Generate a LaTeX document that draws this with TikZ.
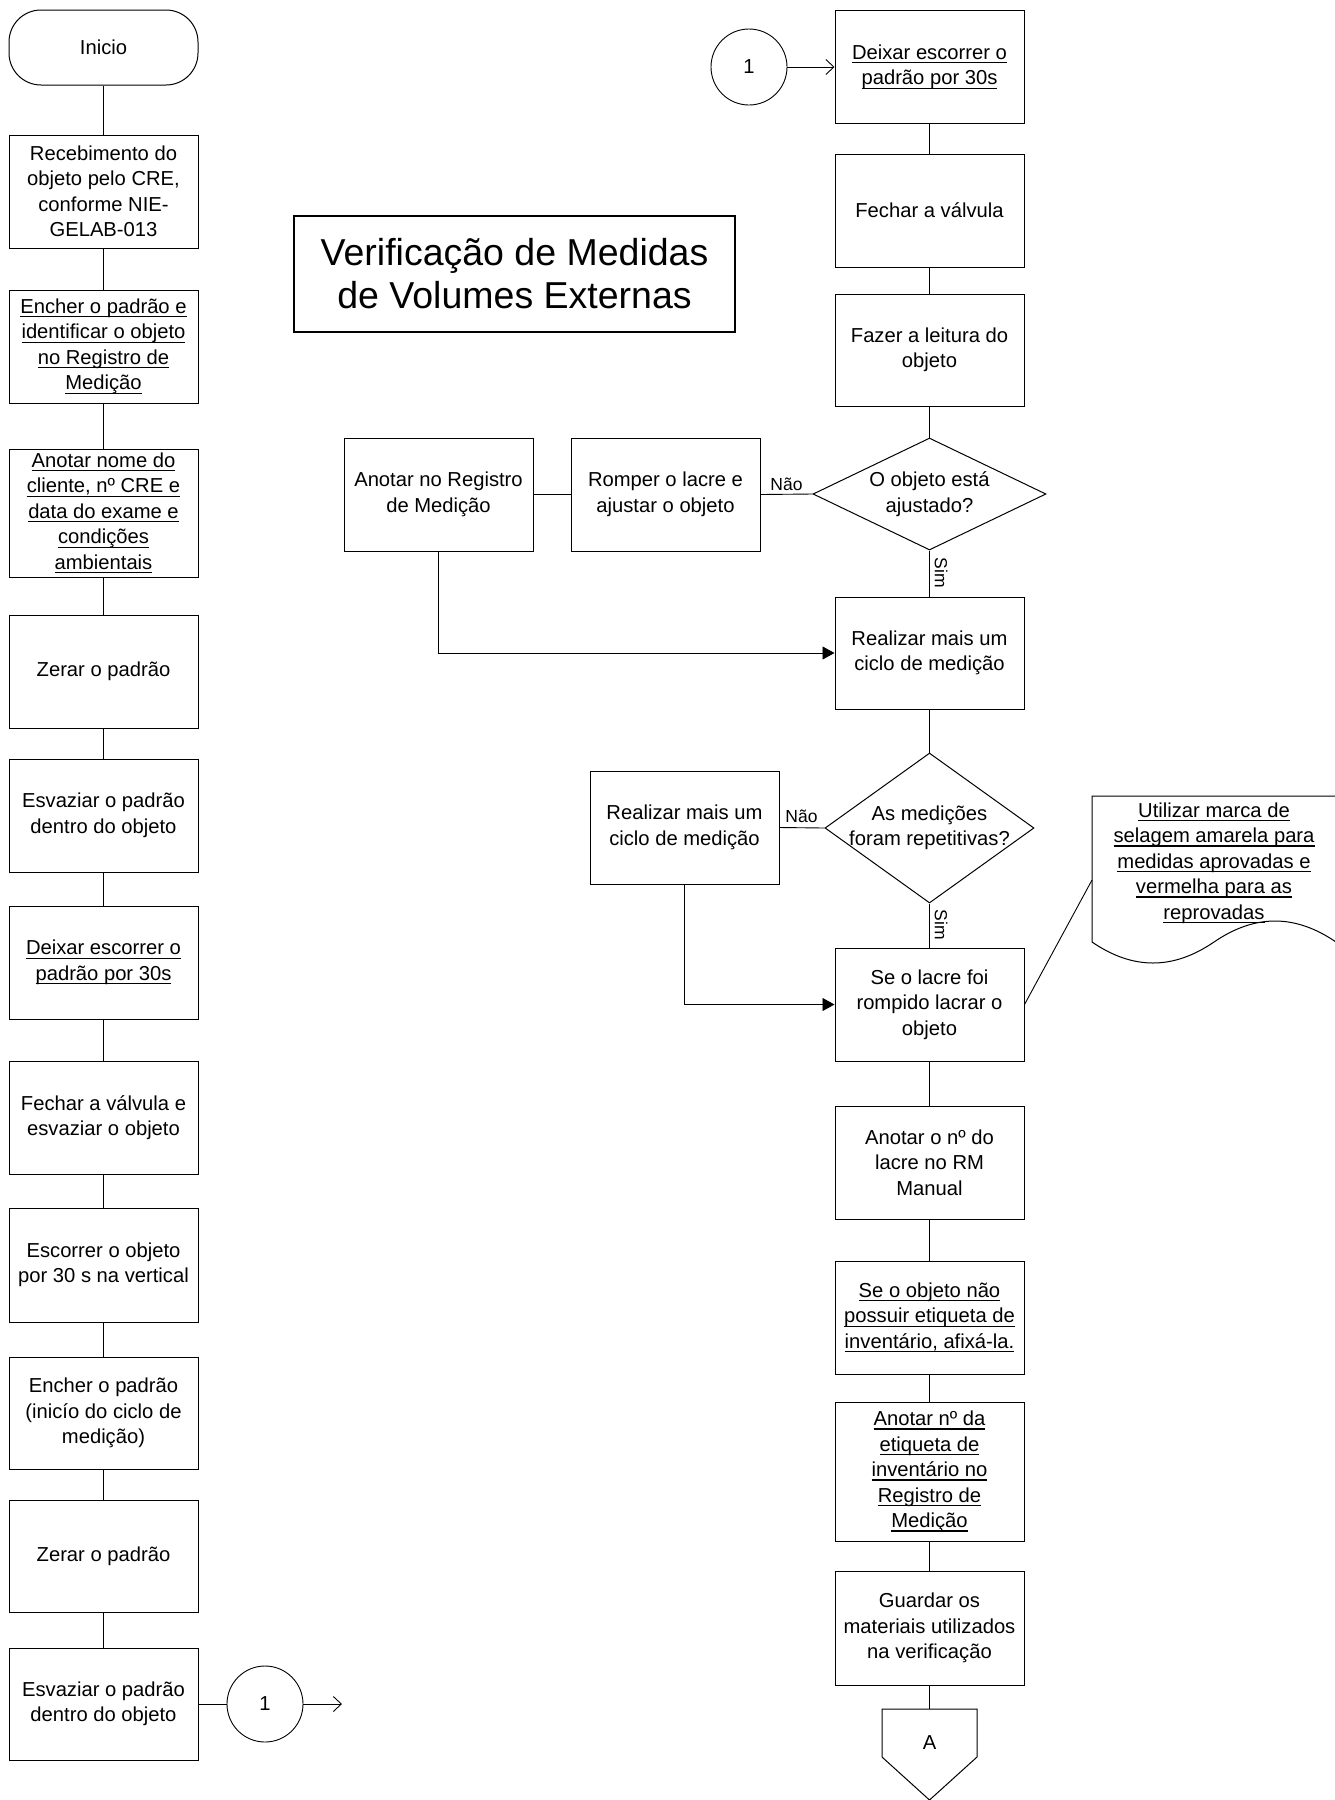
\documentclass[tikz,border=0pt]{standalone}
\usepackage{fontspec}
\setmainfont{Liberation Sans}
\usetikzlibrary{arrows.meta,shapes.geometric}
% underline one line of text, rule just below the baseline
\newcommand\ulx[1]{\leavevmode\setbox0\hbox{#1}\rlap{\rule[-4pt]{\wd0}{1.3pt}}\box0}
\newcommand\bodyfont{\fontsize{20.2}{25.5}\selectfont}
\begin{document}
\begin{tikzpicture}[x=1pt,y=-1pt,
  every node/.style={inner sep=0pt},
  stepbox/.style={draw, line width=1pt, minimum width=189pt, minimum height=113pt, align=center, font=\bodyfont},
  decision/.style={draw, diamond, line width=1pt, inner sep=0pt},
  connector/.style={draw, circle, line width=0.9pt, minimum size=76pt, font=\bodyfont},
  txt/.style={align=center, font=\bodyfont},
  lbl/.style={font=\fontsize{17.5}{21}\selectfont},
  flow/.style={line width=0.9pt},
  tri/.style={flow, -{Triangle[length=12pt,width=13pt]}},
  barb/.style={flow, -{Straight Barb[length=8pt,width=15pt]}}]
\useasboundingbox (0,0) rectangle (1335,1800);
\fill[white] (0,0) rectangle (1335,1800);

% ---------- left column ----------
\node[draw, rounded corners=32pt, line width=1pt, minimum width=189pt, minimum height=75pt, font=\bodyfont] (start) at (103.5,47.5) {Inicio};
\node[stepbox] (L1) at (103.5,191.5) {Recebimento do\\objeto pelo CRE,\\conforme NIE-\\GELAB-013};
\node[stepbox] (L2) at (103.5,346.5) {\ulx{Encher o padrão e}\\\ulx{identificar o objeto}\\\ulx{no Registro de}\\\ulx{Medição}};
\node[stepbox, minimum height=128pt] (L3) at (103.5,513) {\ulx{Anotar nome do}\\\ulx{cliente, nº CRE e}\\\ulx{data do exame e}\\\ulx{condições}\\\ulx{ambientais}};
\node[stepbox] (L4) at (103.5,671.5) {Zerar o padrão};
\node[stepbox] (L5) at (103.5,815.5) {Esvaziar o padrão\\dentro do objeto};
\node[stepbox] (L6) at (103.5,962.5) {\ulx{Deixar escorrer o}\\\ulx{padrão por 30s}};
\node[stepbox] (L7) at (103.5,1117.5) {Fechar a válvula e\\esvaziar o objeto};
\node[stepbox, minimum height=114pt] (L8) at (103.5,1265) {Escorrer o objeto\\por 30 s na vertical};
\node[stepbox, minimum height=112pt] (L9) at (103.5,1413) {Encher o padrão\\(inicío do ciclo de\\medição)};
\node[stepbox, minimum height=112pt] (L10) at (103.5,1556) {Zerar o padrão};
\node[stepbox, minimum height=112pt] (L11) at (103.5,1704) {Esvaziar o padrão\\dentro do objeto};
\node[connector] (c1) at (265,1704) {1};
\coordinate (out1) at (342,1704);

\foreach \a/\b in {start/L1,L1/L2,L2/L3,L3/L4,L4/L5,L5/L6,L6/L7,L7/L8,L8/L9,L9/L10,L10/L11}
  \draw[flow] (\a.south) -- (\b.north);
\draw[flow] (L11.east) -- (c1.west);
\draw[barb] (c1.east) -- (out1);

% ---------- title ----------
\node[draw, line width=2pt, minimum width=441pt, minimum height=116pt, align=center, font=\fontsize{37.5}{43}\selectfont] (title) at (514.5,274) {Verificação de Medidas\\de Volumes Externas};

% ---------- right column ----------
\node[connector] (c2) at (749,67) {1};
\node[stepbox] (R1) at (929.5,67) {\ulx{Deixar escorrer o}\\\ulx{padrão por 30s}};
\node[stepbox] (R2) at (929.5,210.5) {Fechar a válvula};
\node[stepbox, minimum height=112pt] (R3) at (929.5,350) {Fazer a leitura do\\objeto};
\node[decision, minimum width=233pt, minimum height=112pt] (d1) at (929.5,494) {};
\node[txt] (d1t) at (d1.center) {O objeto está\\ajustado?};
\node[stepbox, minimum height=112pt] (R4) at (929.5,653) {Realizar mais um\\ciclo de medição};
\node[decision, minimum width=209pt, minimum height=150pt] (d2) at (929.5,828) {};
\node[txt] (d2t) at (d2.center) {As medições\\foram repetitivas?};
\node[stepbox] (R5) at (929.5,1004.5) {Se o lacre foi\\rompido lacrar o\\objeto};
\node[stepbox] (R6) at (929.5,1162.5) {Anotar o nº do\\lacre no RM\\Manual};
\node[stepbox] (R7) at (929.5,1317.5) {\ulx{Se o objeto não}\\\ulx{possuir etiqueta de}\\\ulx{inventário, afixá-la.}};
\node[stepbox, minimum height=139pt] (R8) at (929.5,1471.5) {\ulx{Anotar nº da}\\\ulx{etiqueta de}\\\ulx{inventário no}\\\ulx{Registro de}\\\ulx{Medição}};
\node[stepbox, minimum height=114pt] (R9) at (929.5,1628) {Guardar os\\materiais utilizados\\na verificação};

% off-page connector
\draw[line width=1pt] (882,1709) -- (977,1709) -- (977,1757) -- (929.5,1800) -- (882,1757) -- cycle;
\coordinate (Atop) at (929.5,1709);
\node[font=\bodyfont] (offA) at (929.5,1743) {A};

% ---------- side branches ----------
\node[stepbox] (romper) at (665.5,494.5) {Romper o lacre e\\ajustar o objeto};
\node[stepbox] (anreg) at (438.5,494.5) {Anotar no Registro\\de Medição};
\node[stepbox] (real2) at (684.5,827.5) {Realizar mais um\\ciclo de medição};

% annotation (document shape)
\draw[line width=1pt] (1336,796) -- (1092,796) -- (1092,942)
  .. controls (1133,970) and (1173,970) .. (1214,942)
  .. controls (1255,914) and (1295,914) .. (1336,942) -- cycle;
\node[txt] (note) at (1214,863) {\ulx{Utilizar marca de}\\\ulx{selagem amarela para}\\\ulx{medidas aprovadas e}\\\ulx{vermelha para as}\\\ulx{reprovadas}};
\coordinate (notepin) at (1092,880);

% ---------- connectors ----------
\draw[barb] (c2.east) -- (R1.west);
\foreach \a/\b in {R1/R2,R2/R3,R3/d1,d1/R4,R4/d2,d2/R5,R5/R6,R6/R7,R7/R8,R8/R9}
  \draw[flow] (\a.south) -- (\b.north);
\draw[flow] (R9.south) -- (Atop);
\draw[flow] (d1.west) -- (romper.east);
\draw[flow] (romper.west) -- (anreg.east);
\draw[tri] (anreg.south) |- (R4.west);
\draw[flow] (d2.west) -- (real2.east);
\draw[tri] (real2.south) |- (R5.west);
\draw[flow] (R5.east) -- (notepin);

% branch labels
\node[lbl, anchor=base] (nao1) at (786.5,490) {Não};
\node[lbl, rotate=-90] (sim1) at (941,573) {Sim};
\node[lbl, anchor=base] (nao2) at (801.5,822) {Não};
\node[lbl, rotate=-90] (sim2) at (941,925) {Sim};
\end{tikzpicture}
\end{document}
